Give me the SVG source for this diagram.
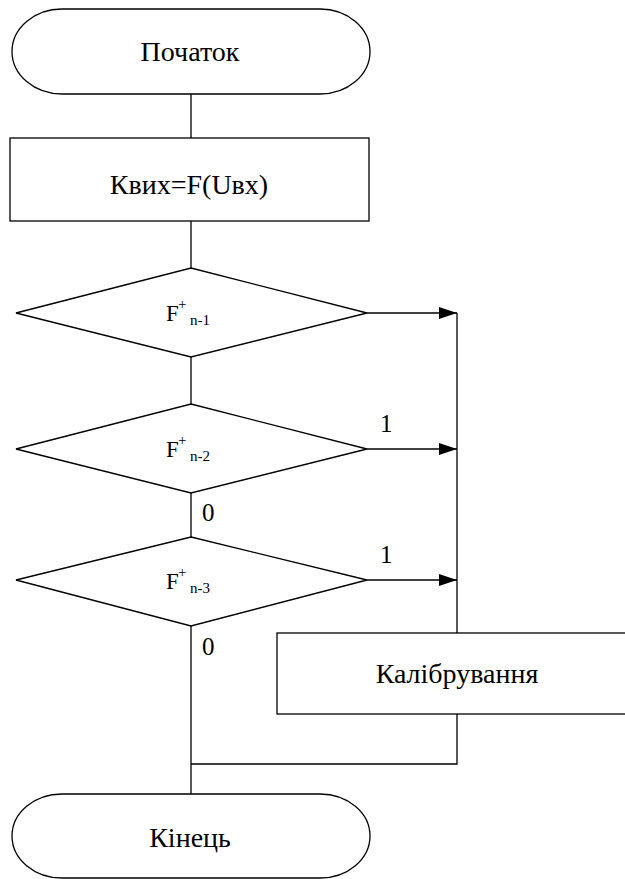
<svg xmlns="http://www.w3.org/2000/svg" width="625" height="879" viewBox="0 0 625 879">
<style>
.s{fill:#fff;stroke:#000;stroke-width:1.3}
.l{fill:none;stroke:#000;stroke-width:1.3}
text{font-family:'Liberation Serif','Times New Roman',serif;fill:#000}
.t{font-size:28px}
.c{text-anchor:middle}
.d{font-size:25px}
.f{font-size:23px}
.sm{font-size:15px}
</style>
<defs>
<marker id="ah" markerWidth="18" markerHeight="12" refX="18" refY="6" orient="auto" markerUnits="userSpaceOnUse">
<path d="M0,0 L18,6 L0,12 Z" fill="#000"/>
</marker>
</defs>
<g id="connectors">
<path class="l" d="M191,94 V138"/>
<path class="l" d="M191,221 V268"/>
<path class="l" d="M191,357 V404"/>
<path class="l" d="M191,493 V537"/>
<path class="l" d="M191,626 V794"/>
<path class="l" d="M367,313 H457" marker-end="url(#ah)"/>
<path class="l" d="M367,449 H457" marker-end="url(#ah)"/>
<path class="l" d="M367,580 H457" marker-end="url(#ah)"/>
<path class="l" d="M457,313 V633"/>
<path class="l" d="M457,714 V764 H191"/>
<text class="d" x="380" y="432">1</text>
<text class="d" x="380" y="563">1</text>
<text class="d" x="202" y="521">0</text>
<text class="d" x="202" y="655">0</text>
</g>
<g id="start">
<rect class="s" x="12" y="9" width="358" height="85" rx="50" ry="42.5"/>
<text class="t c" x="190" y="61">Початок</text>
</g>
<g id="calc">
<rect class="s" x="10" y="138" width="359" height="83"/>
<text class="t c" x="189" y="194">Квих=F(Uвх)</text>
</g>
<g id="d1">
<polygon class="s" points="191,268 367,313 191,357 16,313"/>
<text class="f" x="166" y="321">F</text><text class="sm" x="178" y="309">+</text><text class="sm" x="190" y="325">n-1</text>
</g>
<g id="d2">
<polygon class="s" points="191,404 367,449 191,493 16,449"/>
<text class="f" x="166" y="457">F</text><text class="sm" x="178" y="445">+</text><text class="sm" x="190" y="461">n-2</text>
</g>
<g id="d3">
<polygon class="s" points="191,537 367,580 191,626 16,580"/>
<text class="f" x="166" y="589">F</text><text class="sm" x="178" y="577">+</text><text class="sm" x="190" y="593">n-3</text>
</g>
<g id="calib">
<rect class="s" x="277" y="633" width="360" height="81"/>
<text class="t c" x="457" y="683">Калібрування</text>
</g>
<g id="end">
<rect class="s" x="12" y="794" width="358" height="84" rx="50" ry="42"/>
<text class="t c" x="190" y="847">Кінець</text>
</g>
</svg>
